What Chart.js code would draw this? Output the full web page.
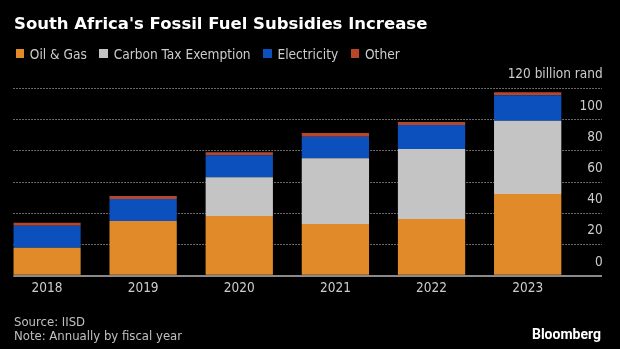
<!DOCTYPE html>
<html>
<head>
<meta charset="utf-8">
<script src="https://cdn.jsdelivr.net/npm/chart.js@4.4.1/dist/chart.umd.min.js"></script>
<style>
  html, body { margin: 0; padding: 0; background: #000; }
  #wrap { position: relative; width: 620px; height: 349px; overflow: hidden; background: #000; }
  #chart { position: absolute; left: 0; top: 0; }
  .t { position: absolute; white-space: nowrap; }
  #title { left: 14px; top: 13.6px; font: bold 16.5px/20px 'DejaVu Sans', sans-serif; color: #fff; }
  #legend { left: 15.5px; top: 45.6px; font: 13.6px/16px 'DejaVu Sans Condensed', 'DejaVu Sans', sans-serif; color: #cccccc; display: flex; align-items: center; }
  #legend .item { display: flex; align-items: center; margin-right: 12.5px; }
  #legend .sw { width: 8.5px; height: 8.5px; margin-right: 5.8px; }
  #foot { left: 14px; top: 315.2px; font: 13px/14px 'DejaVu Sans Condensed', 'DejaVu Sans', sans-serif; color: #c0c0c0; }
  #brand { right: 19px; top: 325.5px; font: bold 14px/16px Roboto, 'Liberation Sans', sans-serif; color: #fff; }
</style>
</head>
<body>
<div id="wrap">
  <canvas id="chart" width="620" height="349"></canvas>
  <div class="t" id="title">South Africa's Fossil Fuel Subsidies Increase</div>
  <div class="t" id="legend"></div>
  <div class="t" id="foot">Source: IISD<br>Note: Annually by fiscal year</div>
  <div class="t" id="brand">Bloomberg</div>
</div>
<script>
// ---- data ----
const years = ['2018', '2019', '2020', '2021', '2022', '2023'];
const oilGas      = [17.9, 35.0, 38.2, 33.1, 36.3, 52.3];
const carbonTax   = [0,    0,    24.8, 42.1, 44.8, 47.0];
const electricity = [14.1, 14.1, 14.1, 13.8, 15.4, 16.2];
const other       = [1.9,  1.9,  1.9,  2.3,  1.9,  1.9];
const seriesNames = ['Oil & Gas', 'Carbon Tax Exemption', 'Electricity', 'Other'];
const yTickValues = [0, 20, 40, 60, 80, 100, 120];
const unitLabel = 'billion rand';

// ---- styles ----
const colors = ['#e08a2a', '#c4c4c4', '#0b50bd', '#b8472a'];
const seriesValues = [oilGas, carbonTax, electricity, other];
const FONT = "'DejaVu Sans Condensed', 'DejaVu Sans', sans-serif";

// HTML legend
const legend = document.getElementById('legend');
seriesNames.forEach((name, i) => {
  const item = document.createElement('span');
  item.className = 'item';
  const sw = document.createElement('span');
  sw.className = 'sw';
  sw.style.background = colors[i];
  const tx = document.createElement('span');
  tx.textContent = name;
  item.appendChild(sw);
  item.appendChild(tx);
  legend.appendChild(item);
});

const datasets = seriesNames.map((name, i) => ({
  label: name,
  data: seriesValues[i].map((v, k) => ({ x: k, y: v })),
  backgroundColor: colors[i],
  borderWidth: 0,
  barPercentage: 0.7,
  categoryPercentage: 1.0
}));

new Chart(document.getElementById('chart'), {
  type: 'bar',
  data: { datasets },
  options: {
    responsive: false,
    devicePixelRatio: 1,
    animation: false,
    events: [],
    layout: { padding: { left: 13.3, right: 16.3, top: 88.3, bottom: 47.1 } },
    plugins: { legend: { display: false }, tooltip: { enabled: false }, title: { display: false } },
    scales: {
      x: {
        type: 'linear',
        stacked: true,
        offset: false,
        min: -0.3505,
        max: 5.770,
        afterBuildTicks: (s) => { s.ticks = years.map((_, i) => ({ value: i })); },
        grid: { display: false, drawTicks: false },
        border: { display: false },
        ticks: {
          autoSkip: false,
          maxRotation: 0,
          padding: 5,
          color: '#cccccc',
          font: { family: FONT, size: 13.5 },
          callback: (v) => (years[v] !== undefined ? years[v] : '')
        }
      },
      y: {
        position: 'right',
        stacked: true,
        min: 0,
        max: 120,
        afterBuildTicks: (s) => { s.ticks = yTickValues.map(v => ({ value: v })); },
        grid: {
          drawTicks: false,
          color: (c) => (c.tick && c.tick.value === 0 ? '#8a8a8a' : '#8c8c8c'),
          lineWidth: (c) => (c.tick && c.tick.value === 0 ? 2 : 1)
        },
        border: {
          display: false,
          dash: (c) => (c.tick && c.tick.value === 0 ? [] : [1.5, 1.5])
        },
        ticks: {
          mirror: true,
          padding: 1,
          labelOffset: -13.5,
          color: '#cccccc',
          font: { family: FONT, size: 13.5 },
          callback: (v) => (v === 120 ? v + ' ' + unitLabel : String(v))
        }
      }
    }
  }
});
</script>
</body>
</html>
